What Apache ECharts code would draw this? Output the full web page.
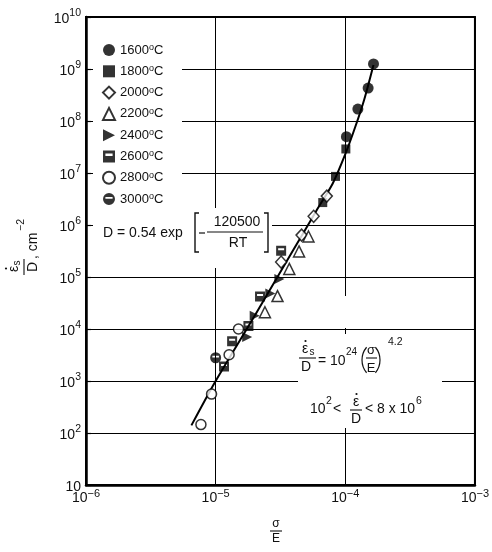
<!DOCTYPE html>
<html>
<head>
<meta charset="utf-8">
<script src="https://cdn.jsdelivr.net/npm/echarts@6/dist/echarts.min.js"></script>
<style>
  html, body { margin: 0; padding: 0; background: #fff; }
  #main { width: 492px; height: 552px; }
</style>
</head>
<body>
<div id="main"></div>
<script>
const temps = ['1600', '1800', '2000', '2200', '2400', '2600', '2800', '3000'];

const x1600 = [1.65e-4, 1.50e-4, 1.25e-4, 1.02e-4];
const y1600 = [1.25e9, 4.3e8, 1.7e8, 5.0e7];
const x1800 = [1.01e-4, 8.4e-5, 6.7e-5];
const y1800 = [2.9e7, 8.6e6, 2.7e6];
const x2000 = [7.2e-5, 5.7e-5, 4.6e-5, 3.2e-5];
const y2000 = [3.6e6, 1.47e6, 6.4e5, 1.94e5];
const x2200 = [5.2e-5, 4.4e-5, 3.7e-5, 3.0e-5, 2.4e-5];
const y2200 = [6.0e5, 3.1e5, 1.43e5, 4.3e4, 2.1e4];
const x2400 = [3.1e-5, 2.64e-5, 2.0e-5, 1.75e-5];
const y2400 = [9.2e4, 4.8e4, 1.8e4, 7.0e3];
const x2600 = [3.2e-5, 2.2e-5, 1.79e-5, 1.34e-5, 1.16e-5];
const y2600 = [3.2e5, 4.2e4, 1.14e4, 5.8e3, 1.9e3];
const x2800 = [1.5e-5, 1.27e-5, 9.3e-6, 7.7e-6];
const y2800 = [1.0e4, 3.2e3, 5.6e2, 1.45e2];
const x3000 = [1.0e-5];
const y3000 = [2.8e3];

// drawn trend curve
const fitX = [6.5e-6, 1e-5, 2e-5, 4e-5, 6e-5, 8e-5, 1e-4, 1.2e-4, 1.4e-4, 1.65e-4];
const fitY = [1.4e2, 1.0e3, 1.8e4, 3.4e5, 1.9e6, 6.3e6, 2.3e7, 8.0e7, 2.6e8, 1.2e9];

const FONT = '"Liberation Sans", Arial, sans-serif';

function zip(xs, ys) {
  return xs.map((x, i) => [x, ys[i]]);
}

const marks = {
  '1600': { x: x1600, y: y1600, symbol: 'circle', size: 11, open: false },
  '1800': { x: x1800, y: y1800, symbol: 'rect', size: 9, open: false },
  '2000': { x: x2000, y: y2000, symbol: 'diamond', size: [11, 12], open: true },
  '2200': { x: x2200, y: y2200, symbol: 'triangle', size: 11, open: true },
  '2400': { x: x2400, y: y2400, symbol: 'path://M0,0L10,5L0,10Z', size: 10, open: false },
  '2600': { x: x2600, y: y2600, symbol: 'path://M0,0L10,0L10,10L0,10Z M2,2.5L2,4.5L8,4.5L8,2.5Z', size: 10, open: false },
  '2800': { x: x2800, y: y2800, symbol: 'circle', size: 10, open: true },
  '3000': { x: x3000, y: y3000, symbol: 'path://M0,5A5,5 0 1,1 10,5A5,5 0 1,1 0,5Z M2,3.2L2,4.8L8,4.8L8,3.2Z', size: 11, open: false }
};

const seriesList = temps.map(t => {
  const m = marks[t];
  return {
    name: t,
    type: 'scatter',
    z: 3,
    data: zip(m.x, m.y),
    symbol: m.symbol,
    symbolSize: m.size,
    itemStyle: m.open
      ? { color: '#fff', borderColor: '#000', borderWidth: 1.5 }
      : { color: '#000' }
  };
});

seriesList.push({
  name: 'fit',
  type: 'line',
  z: 2,
  data: zip(fitX, fitY),
  showSymbol: false,
  smooth: 0.25,
  lineStyle: { color: '#000', width: 2 }
});

function expLabel(v) {
  const e = Math.round(Math.log10(v));
  if (e === 1) return '{b|10}';
  return '{b|10}{s|' + String(e).replace('-', '\u2212') + '}';
}

function txt(x, y, text, size, align) {
  return {
    type: 'text', x: x, y: y, z: 10,
    style: {
      text: text, font: size + 'px ' + FONT, fill: '#111',
      align: align || 'center', verticalAlign: 'middle'
    }
  };
}
function seg(pts, w) {
  return { type: 'polyline', z: 10, shape: { points: pts }, style: { stroke: '#111', lineWidth: w || 1.2, fill: null } };
}
function dot(x, y) {
  return { type: 'circle', z: 10, shape: { cx: x, cy: y, r: 1.1 }, style: { fill: '#111' } };
}
function paren(cx, cy, r, a0, a1) {
  return { type: 'arc', z: 10, shape: { cx: cx, cy: cy, r: r, startAngle: a0, endAngle: a1, clockwise: true },
    style: { stroke: '#111', lineWidth: 1.2, fill: null } };
}
function white(x, y, w, h) {
  return { type: 'rect', z: 1, shape: { x: x, y: y, width: w, height: h }, style: { fill: '#fff' } };
}

const chart = echarts.init(document.getElementById('main'));
chart.setOption({
  animation: false,
  backgroundColor: '#fff',
  grid: { left: 86, right: 14, top: 17, bottom: 67, show: true, borderColor: '#000', borderWidth: 2 },
  legend: {
    data: temps,
    orient: 'vertical',
    left: 102,
    top: 43,
    padding: 0,
    itemWidth: 12,
    itemHeight: 12,
    itemGap: 7.3,
    selectedMode: false,
    formatter: n => n + '{o|o}C',
    textStyle: {
      fontFamily: FONT, fontSize: 13, color: '#111', lineHeight: 14,
      rich: { o: { fontFamily: FONT, fontSize: 9, lineHeight: 8, verticalAlign: 'top', color: '#111' } }
    }
  },
  xAxis: {
    type: 'log', logBase: 10, min: 1e-6, max: 1e-3, interval: 1,
    axisLine: { lineStyle: { color: '#000', width: 2.5 } },
    axisTick: { show: false },
    splitLine: { show: true, lineStyle: { color: '#000', width: 1 } },
    axisLabel: {
      margin: 3, formatter: expLabel, color: '#111',
      rich: {
        b: { fontFamily: FONT, fontSize: 14, lineHeight: 17, verticalAlign: 'bottom', color: '#111' },
        s: { fontFamily: FONT, fontSize: 11, lineHeight: 12, verticalAlign: 'top', color: '#111' }
      }
    }
  },
  yAxis: {
    type: 'log', logBase: 10, min: 10, max: 1e10, interval: 1,
    axisLine: { lineStyle: { color: '#000', width: 2.5 } },
    axisTick: { show: true, inside: true, length: 5, lineStyle: { color: '#000', width: 1.2 } },
    splitLine: { show: true, lineStyle: { color: '#000', width: 1 } },
    axisLabel: {
      margin: 5, formatter: expLabel, color: '#111',
      rich: {
        b: { fontFamily: FONT, fontSize: 14, lineHeight: 18, verticalAlign: 'bottom', color: '#111' },
        s: { fontFamily: FONT, fontSize: 10.5, lineHeight: 11, verticalAlign: 'top', color: '#111' }
      }
    }
  },
  graphic: [
    // blank areas behind legend and annotations
    white(93, 20, 89, 188),
    white(93, 208, 179, 60),
    white(298, 334, 144, 94),
    white(339, 296, 8, 32),

    // D = 0.54 exp [ -120500 / RT ]
    txt(103, 233, 'D = 0.54 exp', 14, 'left'),
    seg([[199, 213], [195, 213], [195, 252], [199, 252]], 1.4),
    seg([[264, 213], [268, 213], [268, 252], [264, 252]], 1.4),
    seg([[199, 233], [205, 233]], 1.2),
    txt(237, 222, '120500', 14),
    seg([[207, 232], [263, 232]], 1.1),
    txt(238, 243, 'RT', 14),

    // eps_s / D = 10^24 (sigma/E)^4.2
    txt(305, 349, '\u03b5', 14),
    dot(305.5, 341),
    txt(312, 352, 's', 10),
    seg([[299, 358], [316, 358]], 1.1),
    txt(306, 367, 'D', 14),
    txt(318, 361, '= 10', 14, 'left'),
    txt(346, 352, '24', 10, 'left'),
    paren(382, 360, 20, Math.PI * 0.78, Math.PI * 1.22),
    txt(371, 350, '\u03c3', 13),
    seg([[366, 358], [377, 358]], 1.1),
    txt(371, 368, 'E', 13),
    paren(360, 360, 20, -Math.PI * 0.22, Math.PI * 0.22),
    txt(388, 342, '4.2', 10.5, 'left'),

    // 10^2 < eps/D < 8 x 10^6
    txt(310, 409, '10', 14, 'left'),
    txt(326, 401, '2', 10.5, 'left'),
    txt(337, 409, '<', 14),
    txt(356, 402, '\u03b5', 14),
    dot(356.5, 394),
    seg([[350, 410], [362, 410]], 1.1),
    txt(356, 419, 'D', 14),
    txt(369, 409, '<', 14),
    txt(377, 409, '8 x 10', 14, 'left'),
    txt(416, 401, '6', 10.5, 'left'),

    // x axis name sigma / E
    txt(276, 524, '\u03c3', 12),
    seg([[270, 531], [282, 531]], 1.1),
    txt(276, 539, 'E', 12),

    // y axis name, rotated
    {
      type: 'group', x: 24, y: 277, rotation: Math.PI / 2,
      children: [
        txt(8, -10, '\u03b5', 14),
        dot(8.5, -18),
        txt(14, -7, 's', 10),
        seg([[2, 0], [18, 0]], 1.1),
        txt(10, 9, 'D', 14),
        txt(18, 9, ', cm', 14, 'left'),
        txt(46, -3, '\u22122', 10.5, 'left')
      ]
    }
  ],
  series: seriesList
});
</script>
</body>
</html>
